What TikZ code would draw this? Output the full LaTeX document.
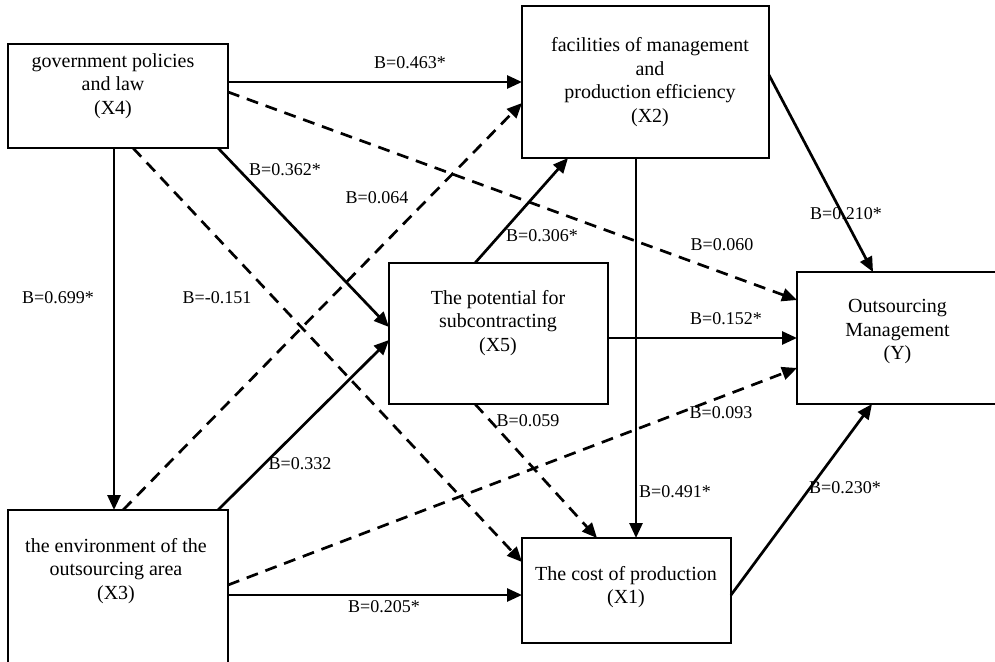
\documentclass[tikz,border=0pt]{standalone}
\usepackage{fontspec}
\setmainfont{Liberation Serif}
\usetikzlibrary{arrows.meta,calc}
\begin{document}
\begin{tikzpicture}[x=1pt,y=-1pt,
  box/.style={draw, line width=2.2pt, rectangle, inner sep=0pt, outer sep=0pt},
  txt/.style={align=center, font=\fontsize{20}{23.5}\selectfont, inner sep=0pt},
  lab/.style={font=\fontsize{18}{20}\selectfont, inner sep=0pt},
  conn/.style={line width=2.7pt, -{Triangle[length=15pt,width=13pt]}},
  dconn/.style={conn, dash pattern=on 12pt off 8pt}]
\useasboundingbox (0,0) rectangle (995,661);
% boxes
\node[box, minimum width=220pt, minimum height=104pt] (X4) at (118,96) {};
\node[box, minimum width=247pt, minimum height=152pt] (X2) at (645.5,82) {};
\node[box, minimum width=201pt, minimum height=132pt] (Y) at (897.5,338) {};
\node[box, minimum width=219pt, minimum height=141pt] (X5) at (498.5,333.5) {};
\node[box, minimum width=220pt, minimum height=170pt] (X3) at (118,595) {};
\node[box, minimum width=209pt, minimum height=105pt] (X1) at (626.5,590.5) {};
% texts
\node[txt] (X4t) at (113,86) {government policies\\and law\\(X4)};
\node[txt] (X2t) at (650,82) {facilities of management\\and\\production efficiency\\(X2)};
\node[txt] (Yt) at (897.5,332) {Outsourcing\\Management\\(Y)};
\node[txt] (X5t) at (498,323) {The potential for\\subcontracting\\(X5)};
\node[txt] (X3t) at (116,571) {the environment of the\\outsourcing area\\(X3)};
\node[txt] (X1t) at (626,587) {The cost of production\\(X1)};
% connectors
\draw[conn]  ($(X4.north east)+(0,38)$) -- ($(X2.north west)+(0,76)$);
\draw[dconn] ($(X4.north east)+(0,48)$) -- ($(Y.north west)+(0,28)$);
\draw[conn]  ($(X4.south west)+(106,0)$) -- ($(X3.north west)+(106,0)$);
\draw[dconn] ($(X4.south west)+(125,0)$) -- ($(X1.north west)+(0,24)$);
\draw[conn]  ($(X4.south west)+(210,0)$) -- ($(X5.north west)+(0,64)$);
\draw[dconn] ($(X3.north west)+(115,0)$) -- ($(X2.north west)+(0,97)$);
\draw[conn]  ($(X3.north west)+(210,0)$) -- ($(X5.north west)+(0,77)$);
\draw[dconn] ($(X3.north east)+(0,75)$) -- ($(Y.north west)+(0,96)$);
\draw[conn]  ($(X3.north east)+(0,85)$) -- ($(X1.north west)+(0,57)$);
\draw[conn]  ($(X5.north west)+(86,0)$) -- ($(X2.south west)+(46,0)$);
\draw[conn]  ($(X5.north east)+(0,75)$) -- ($(Y.north west)+(0,66)$);
\draw[dconn] ($(X5.south west)+(86,0)$) -- ($(X1.north west)+(75,0)$);
\draw[conn]  ($(X2.south west)+(114,0)$) -- ($(X1.north west)+(114,0)$);
\draw[conn]  ($(X2.north east)+(0,69)$) -- ($(Y.north west)+(76,0)$);
\draw[conn]  ($(X1.north east)+(0,57)$) -- ($(Y.south west)+(75,0)$);
% labels
\node[lab] (l1) at (410,63) {B=0.463*};
\node[lab] (l2) at (722,245) {B=0.060};
\node[lab] (l3) at (58,298) {B=0.699*};
\node[lab] (l4) at (217,298) {B=-0.151};
\node[lab] (l5) at (285,170) {B=0.362*};
\node[lab] (l6) at (377,198) {B=0.064};
\node[lab] (l7) at (300,464) {B=0.332};
\node[lab] (l8) at (721,413) {B=0.093};
\node[lab] (l9) at (384,607) {B=0.205*};
\node[lab] (l10) at (542,236) {B=0.306*};
\node[lab] (l11) at (726,319) {B=0.152*};
\node[lab] (l12) at (528,421) {B=0.059};
\node[lab] (l13) at (675,492) {B=0.491*};
\node[lab] (l14) at (846,214) {B=0.210*};
\node[lab] (l15) at (845,488) {B=0.230*};
\end{tikzpicture}
\end{document}
